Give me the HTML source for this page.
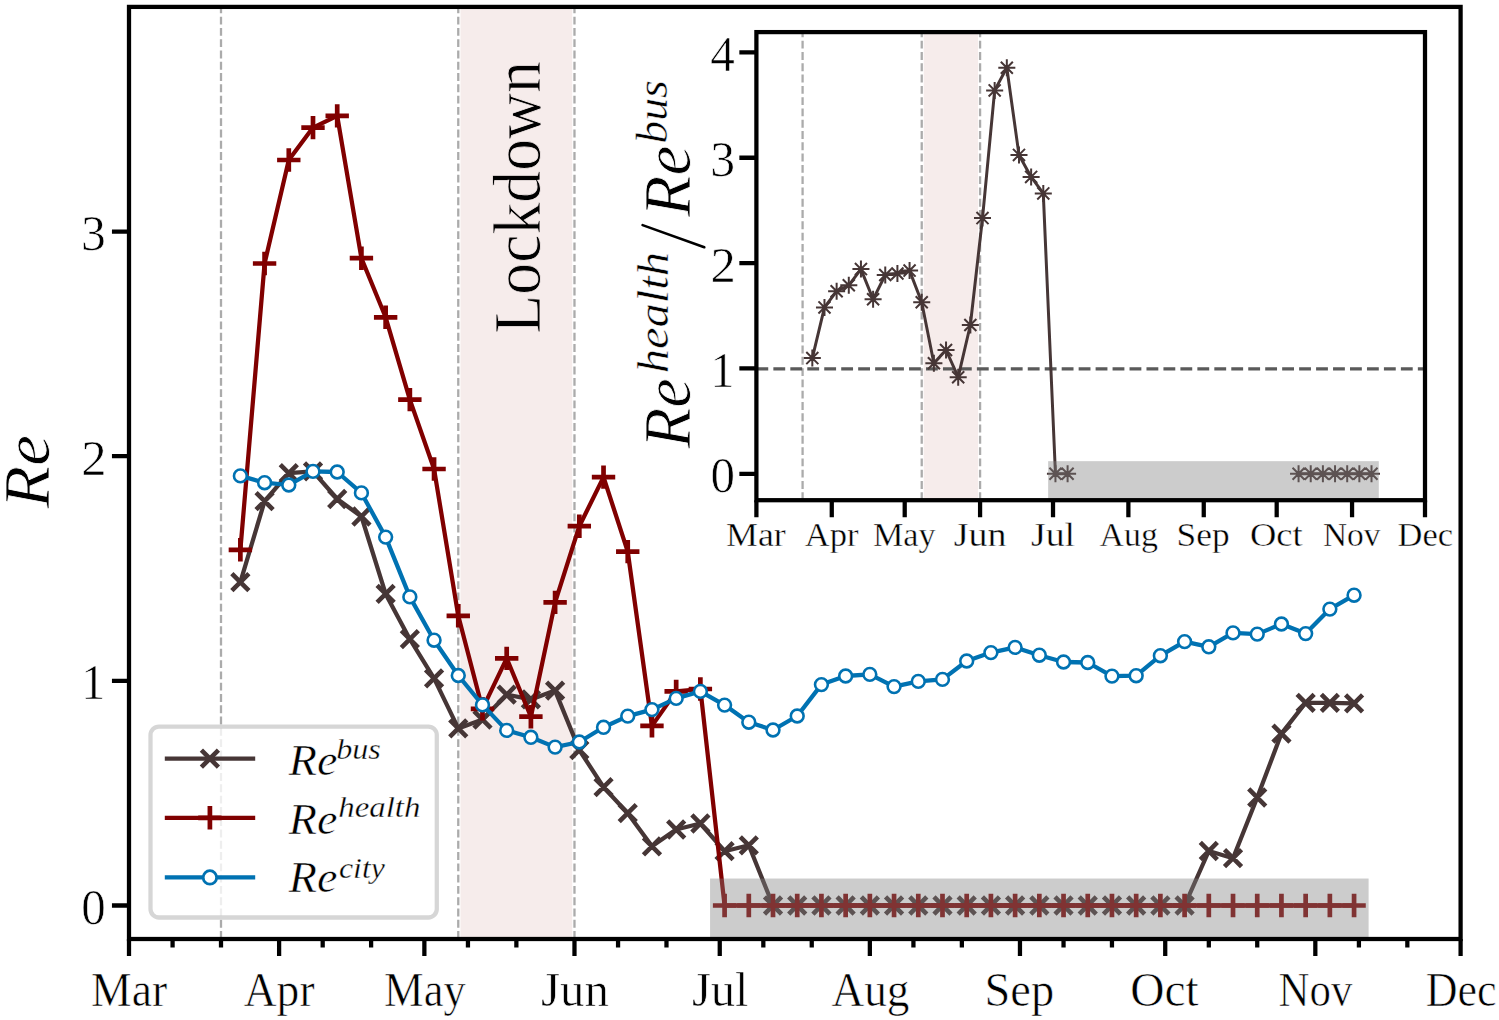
<!DOCTYPE html>
<html><head><meta charset="utf-8"><title>Re chart</title>
<style>html,body{margin:0;padding:0;background:#fff;overflow:hidden;width:1499px;height:1020px;}svg{display:block;}text{font-family:"Liberation Serif",serif;}</style>
</head><body>
<svg width="1499" height="1020" viewBox="0 0 1499 1020">
<rect x="0" y="0" width="1499" height="1020" fill="#ffffff"/>
<defs><clipPath id="cm"><rect x="129" y="6.9" width="1331.6" height="932.1"/></clipPath><clipPath id="ci"><rect x="756.4" y="32.1" width="668.6" height="468.1"/></clipPath></defs>
<g clip-path="url(#cm)">
<rect x="460.47" y="6.9" width="111.81" height="932.1" fill="#f6eceb"/>
<line x1="221" y1="939" x2="221" y2="6.9" stroke="#ababab" stroke-width="2.3" stroke-dasharray="7.88 3.41"/>
<line x1="458.27" y1="939" x2="458.27" y2="6.9" stroke="#ababab" stroke-width="2.3" stroke-dasharray="7.88 3.41"/>
<line x1="574.48" y1="939" x2="574.48" y2="6.9" stroke="#ababab" stroke-width="2.3" stroke-dasharray="7.88 3.41"/>
<path d="M240.37,582.1 L264.58,501.2 L288.79,473.1 L313,471.4 L337.21,499 L361.42,516.5 L385.64,593.9 L409.85,639.2 L434.06,678.4 L458.27,728.4 L482.48,719.6 L506.69,694.7 L530.9,699.4 L555.11,690.6 L579.32,750 L603.53,787.1 L627.74,813.2 L651.96,846.3 L676.17,829.5 L700.38,823.5 L724.59,851.2 L748.8,845.3 L773.01,905.5 L797.22,905.5 L821.43,905.5 L845.64,905.5 L869.85,905.5 L894.06,905.5 L918.28,905.5 L942.49,905.5 L966.7,905.5 L990.91,905.5 L1015.12,905.5 L1039.33,905.5 L1063.54,905.5 L1087.75,905.5 L1111.96,905.5 L1136.17,905.5 L1160.38,905.5 L1184.6,905.5 L1208.81,851 L1233.02,858.2 L1257.23,797.5 L1281.44,733.6 L1305.65,702.8 L1329.86,702.8 L1354.07,703.3" fill="none" stroke="#463636" stroke-width="4.26" stroke-linejoin="round" stroke-linecap="butt"/>
<path d="M231.85,573.58 L248.89,590.62 M231.85,590.62 L248.89,573.58 M256.06,492.68 L273.1,509.72 M256.06,509.72 L273.1,492.68 M280.27,464.58 L297.31,481.62 M280.27,481.62 L297.31,464.58 M304.48,462.88 L321.52,479.92 M304.48,479.92 L321.52,462.88 M328.69,490.48 L345.73,507.52 M328.69,507.52 L345.73,490.48 M352.9,507.98 L369.94,525.02 M352.9,525.02 L369.94,507.98 M377.12,585.38 L394.16,602.42 M377.12,602.42 L394.16,585.38 M401.33,630.68 L418.37,647.72 M401.33,647.72 L418.37,630.68 M425.54,669.88 L442.58,686.92 M425.54,686.92 L442.58,669.88 M449.75,719.88 L466.79,736.92 M449.75,736.92 L466.79,719.88 M473.96,711.08 L491,728.12 M473.96,728.12 L491,711.08 M498.17,686.18 L515.21,703.22 M498.17,703.22 L515.21,686.18 M522.38,690.88 L539.42,707.92 M522.38,707.92 L539.42,690.88 M546.59,682.08 L563.63,699.12 M546.59,699.12 L563.63,682.08 M570.8,741.48 L587.84,758.52 M570.8,758.52 L587.84,741.48 M595.01,778.58 L612.05,795.62 M595.01,795.62 L612.05,778.58 M619.22,804.68 L636.26,821.72 M619.22,821.72 L636.26,804.68 M643.44,837.78 L660.48,854.82 M643.44,854.82 L660.48,837.78 M667.65,820.98 L684.69,838.02 M667.65,838.02 L684.69,820.98 M691.86,814.98 L708.9,832.02 M691.86,832.02 L708.9,814.98 M716.07,842.68 L733.11,859.72 M716.07,859.72 L733.11,842.68 M740.28,836.78 L757.32,853.82 M740.28,853.82 L757.32,836.78 M764.49,896.98 L781.53,914.02 M764.49,914.02 L781.53,896.98 M788.7,896.98 L805.74,914.02 M788.7,914.02 L805.74,896.98 M812.91,896.98 L829.95,914.02 M812.91,914.02 L829.95,896.98 M837.12,896.98 L854.16,914.02 M837.12,914.02 L854.16,896.98 M861.33,896.98 L878.37,914.02 M861.33,914.02 L878.37,896.98 M885.54,896.98 L902.58,914.02 M885.54,914.02 L902.58,896.98 M909.76,896.98 L926.8,914.02 M909.76,914.02 L926.8,896.98 M933.97,896.98 L951.01,914.02 M933.97,914.02 L951.01,896.98 M958.18,896.98 L975.22,914.02 M958.18,914.02 L975.22,896.98 M982.39,896.98 L999.43,914.02 M982.39,914.02 L999.43,896.98 M1006.6,896.98 L1023.64,914.02 M1006.6,914.02 L1023.64,896.98 M1030.81,896.98 L1047.85,914.02 M1030.81,914.02 L1047.85,896.98 M1055.02,896.98 L1072.06,914.02 M1055.02,914.02 L1072.06,896.98 M1079.23,896.98 L1096.27,914.02 M1079.23,914.02 L1096.27,896.98 M1103.44,896.98 L1120.48,914.02 M1103.44,914.02 L1120.48,896.98 M1127.65,896.98 L1144.69,914.02 M1127.65,914.02 L1144.69,896.98 M1151.86,896.98 L1168.9,914.02 M1151.86,914.02 L1168.9,896.98 M1176.08,896.98 L1193.12,914.02 M1176.08,914.02 L1193.12,896.98 M1200.29,842.48 L1217.33,859.52 M1200.29,859.52 L1217.33,842.48 M1224.5,849.68 L1241.54,866.72 M1224.5,866.72 L1241.54,849.68 M1248.71,788.98 L1265.75,806.02 M1248.71,806.02 L1265.75,788.98 M1272.92,725.08 L1289.96,742.12 M1272.92,742.12 L1289.96,725.08 M1297.13,694.28 L1314.17,711.32 M1297.13,711.32 L1314.17,694.28 M1321.34,694.28 L1338.38,711.32 M1321.34,711.32 L1338.38,694.28 M1345.55,694.78 L1362.59,711.82 M1345.55,711.82 L1362.59,694.78" fill="none" stroke="#463636" stroke-width="4.6" stroke-linecap="butt"/>
<path d="M240.37,549.8 L264.58,263.5 L288.79,160 L313,127.6 L337.21,115.9 L361.42,258.2 L385.64,317.3 L409.85,399.6 L434.06,469 L458.27,615.8 L482.48,708.8 L506.69,658.4 L530.9,716.7 L555.11,602.4 L579.32,526.2 L603.53,477.1 L627.74,551.6 L651.96,725.9 L676.17,691.4 L700.38,689 L724.59,905.5 L748.8,905.5 L773.01,905.5 L797.22,905.5 L821.43,905.5 L845.64,905.5 L869.85,905.5 L894.06,905.5 L918.28,905.5 L942.49,905.5 L966.7,905.5 L990.91,905.5 L1015.12,905.5 L1039.33,905.5 L1063.54,905.5 L1087.75,905.5 L1111.96,905.5 L1136.17,905.5 L1160.38,905.5 L1184.6,905.5 L1208.81,905.5 L1233.02,905.5 L1257.23,905.5 L1281.44,905.5 L1305.65,905.5 L1329.86,905.5 L1354.07,905.5" fill="none" stroke="#800000" stroke-width="4.26" stroke-linejoin="round" stroke-linecap="butt"/>
<path d="M228.67,549.8 L252.07,549.8 M240.37,538.1 L240.37,561.5 M252.88,263.5 L276.28,263.5 M264.58,251.8 L264.58,275.2 M277.09,160 L300.49,160 M288.79,148.3 L288.79,171.7 M301.3,127.6 L324.7,127.6 M313,115.9 L313,139.3 M325.51,115.9 L348.91,115.9 M337.21,104.2 L337.21,127.6 M349.72,258.2 L373.12,258.2 M361.42,246.5 L361.42,269.9 M373.94,317.3 L397.34,317.3 M385.64,305.6 L385.64,329 M398.15,399.6 L421.55,399.6 M409.85,387.9 L409.85,411.3 M422.36,469 L445.76,469 M434.06,457.3 L434.06,480.7 M446.57,615.8 L469.97,615.8 M458.27,604.1 L458.27,627.5 M470.78,708.8 L494.18,708.8 M482.48,697.1 L482.48,720.5 M494.99,658.4 L518.39,658.4 M506.69,646.7 L506.69,670.1 M519.2,716.7 L542.6,716.7 M530.9,705 L530.9,728.4 M543.41,602.4 L566.81,602.4 M555.11,590.7 L555.11,614.1 M567.62,526.2 L591.02,526.2 M579.32,514.5 L579.32,537.9 M591.83,477.1 L615.23,477.1 M603.53,465.4 L603.53,488.8 M616.04,551.6 L639.44,551.6 M627.74,539.9 L627.74,563.3 M640.26,725.9 L663.66,725.9 M651.96,714.2 L651.96,737.6 M664.47,691.4 L687.87,691.4 M676.17,679.7 L676.17,703.1 M688.68,689 L712.08,689 M700.38,677.3 L700.38,700.7 M712.89,905.5 L736.29,905.5 M724.59,893.8 L724.59,917.2 M737.1,905.5 L760.5,905.5 M748.8,893.8 L748.8,917.2 M761.31,905.5 L784.71,905.5 M773.01,893.8 L773.01,917.2 M785.52,905.5 L808.92,905.5 M797.22,893.8 L797.22,917.2 M809.73,905.5 L833.13,905.5 M821.43,893.8 L821.43,917.2 M833.94,905.5 L857.34,905.5 M845.64,893.8 L845.64,917.2 M858.15,905.5 L881.55,905.5 M869.85,893.8 L869.85,917.2 M882.36,905.5 L905.76,905.5 M894.06,893.8 L894.06,917.2 M906.58,905.5 L929.98,905.5 M918.28,893.8 L918.28,917.2 M930.79,905.5 L954.19,905.5 M942.49,893.8 L942.49,917.2 M955,905.5 L978.4,905.5 M966.7,893.8 L966.7,917.2 M979.21,905.5 L1002.61,905.5 M990.91,893.8 L990.91,917.2 M1003.42,905.5 L1026.82,905.5 M1015.12,893.8 L1015.12,917.2 M1027.63,905.5 L1051.03,905.5 M1039.33,893.8 L1039.33,917.2 M1051.84,905.5 L1075.24,905.5 M1063.54,893.8 L1063.54,917.2 M1076.05,905.5 L1099.45,905.5 M1087.75,893.8 L1087.75,917.2 M1100.26,905.5 L1123.66,905.5 M1111.96,893.8 L1111.96,917.2 M1124.47,905.5 L1147.87,905.5 M1136.17,893.8 L1136.17,917.2 M1148.68,905.5 L1172.08,905.5 M1160.38,893.8 L1160.38,917.2 M1172.9,905.5 L1196.3,905.5 M1184.6,893.8 L1184.6,917.2 M1197.11,905.5 L1220.51,905.5 M1208.81,893.8 L1208.81,917.2 M1221.32,905.5 L1244.72,905.5 M1233.02,893.8 L1233.02,917.2 M1245.53,905.5 L1268.93,905.5 M1257.23,893.8 L1257.23,917.2 M1269.74,905.5 L1293.14,905.5 M1281.44,893.8 L1281.44,917.2 M1293.95,905.5 L1317.35,905.5 M1305.65,893.8 L1305.65,917.2 M1318.16,905.5 L1341.56,905.5 M1329.86,893.8 L1329.86,917.2 M1342.37,905.5 L1365.77,905.5 M1354.07,893.8 L1354.07,917.2" fill="none" stroke="#800000" stroke-width="4.7" stroke-linecap="butt"/>
<path d="M240.37,475.9 L264.58,482.7 L288.79,485 L313,471.4 L337.21,472 L361.42,492.9 L385.64,537.1 L409.85,596.9 L434.06,640.2 L458.27,675.5 L482.48,704.9 L506.69,730.4 L530.9,737.3 L555.11,747.1 L579.32,742 L603.53,727.3 L627.74,716.1 L651.96,709.6 L676.17,698.4 L700.38,691.4 L724.59,705.1 L748.8,722.2 L773.01,730 L797.22,716 L821.43,684.6 L845.64,676 L869.85,674.4 L894.06,686.6 L918.28,681.4 L942.49,679.4 L966.7,661 L990.91,652.6 L1015.12,647.4 L1039.33,655.2 L1063.54,662 L1087.75,662.5 L1111.96,676.1 L1136.17,675.7 L1160.38,655.7 L1184.6,641.6 L1208.81,646.8 L1233.02,632.9 L1257.23,634.1 L1281.44,624 L1305.65,633.6 L1329.86,609.1 L1354.07,595.2" fill="none" stroke="#0072b2" stroke-width="4.26" stroke-linejoin="round" stroke-linecap="butt"/>
<circle cx="240.37" cy="475.9" r="6.4" fill="#ffffff" stroke="#0072b2" stroke-width="2.6"/>
<circle cx="264.58" cy="482.7" r="6.4" fill="#ffffff" stroke="#0072b2" stroke-width="2.6"/>
<circle cx="288.79" cy="485" r="6.4" fill="#ffffff" stroke="#0072b2" stroke-width="2.6"/>
<circle cx="313" cy="471.4" r="6.4" fill="#ffffff" stroke="#0072b2" stroke-width="2.6"/>
<circle cx="337.21" cy="472" r="6.4" fill="#ffffff" stroke="#0072b2" stroke-width="2.6"/>
<circle cx="361.42" cy="492.9" r="6.4" fill="#ffffff" stroke="#0072b2" stroke-width="2.6"/>
<circle cx="385.64" cy="537.1" r="6.4" fill="#ffffff" stroke="#0072b2" stroke-width="2.6"/>
<circle cx="409.85" cy="596.9" r="6.4" fill="#ffffff" stroke="#0072b2" stroke-width="2.6"/>
<circle cx="434.06" cy="640.2" r="6.4" fill="#ffffff" stroke="#0072b2" stroke-width="2.6"/>
<circle cx="458.27" cy="675.5" r="6.4" fill="#ffffff" stroke="#0072b2" stroke-width="2.6"/>
<circle cx="482.48" cy="704.9" r="6.4" fill="#ffffff" stroke="#0072b2" stroke-width="2.6"/>
<circle cx="506.69" cy="730.4" r="6.4" fill="#ffffff" stroke="#0072b2" stroke-width="2.6"/>
<circle cx="530.9" cy="737.3" r="6.4" fill="#ffffff" stroke="#0072b2" stroke-width="2.6"/>
<circle cx="555.11" cy="747.1" r="6.4" fill="#ffffff" stroke="#0072b2" stroke-width="2.6"/>
<circle cx="579.32" cy="742" r="6.4" fill="#ffffff" stroke="#0072b2" stroke-width="2.6"/>
<circle cx="603.53" cy="727.3" r="6.4" fill="#ffffff" stroke="#0072b2" stroke-width="2.6"/>
<circle cx="627.74" cy="716.1" r="6.4" fill="#ffffff" stroke="#0072b2" stroke-width="2.6"/>
<circle cx="651.96" cy="709.6" r="6.4" fill="#ffffff" stroke="#0072b2" stroke-width="2.6"/>
<circle cx="676.17" cy="698.4" r="6.4" fill="#ffffff" stroke="#0072b2" stroke-width="2.6"/>
<circle cx="700.38" cy="691.4" r="6.4" fill="#ffffff" stroke="#0072b2" stroke-width="2.6"/>
<circle cx="724.59" cy="705.1" r="6.4" fill="#ffffff" stroke="#0072b2" stroke-width="2.6"/>
<circle cx="748.8" cy="722.2" r="6.4" fill="#ffffff" stroke="#0072b2" stroke-width="2.6"/>
<circle cx="773.01" cy="730" r="6.4" fill="#ffffff" stroke="#0072b2" stroke-width="2.6"/>
<circle cx="797.22" cy="716" r="6.4" fill="#ffffff" stroke="#0072b2" stroke-width="2.6"/>
<circle cx="821.43" cy="684.6" r="6.4" fill="#ffffff" stroke="#0072b2" stroke-width="2.6"/>
<circle cx="845.64" cy="676" r="6.4" fill="#ffffff" stroke="#0072b2" stroke-width="2.6"/>
<circle cx="869.85" cy="674.4" r="6.4" fill="#ffffff" stroke="#0072b2" stroke-width="2.6"/>
<circle cx="894.06" cy="686.6" r="6.4" fill="#ffffff" stroke="#0072b2" stroke-width="2.6"/>
<circle cx="918.28" cy="681.4" r="6.4" fill="#ffffff" stroke="#0072b2" stroke-width="2.6"/>
<circle cx="942.49" cy="679.4" r="6.4" fill="#ffffff" stroke="#0072b2" stroke-width="2.6"/>
<circle cx="966.7" cy="661" r="6.4" fill="#ffffff" stroke="#0072b2" stroke-width="2.6"/>
<circle cx="990.91" cy="652.6" r="6.4" fill="#ffffff" stroke="#0072b2" stroke-width="2.6"/>
<circle cx="1015.12" cy="647.4" r="6.4" fill="#ffffff" stroke="#0072b2" stroke-width="2.6"/>
<circle cx="1039.33" cy="655.2" r="6.4" fill="#ffffff" stroke="#0072b2" stroke-width="2.6"/>
<circle cx="1063.54" cy="662" r="6.4" fill="#ffffff" stroke="#0072b2" stroke-width="2.6"/>
<circle cx="1087.75" cy="662.5" r="6.4" fill="#ffffff" stroke="#0072b2" stroke-width="2.6"/>
<circle cx="1111.96" cy="676.1" r="6.4" fill="#ffffff" stroke="#0072b2" stroke-width="2.6"/>
<circle cx="1136.17" cy="675.7" r="6.4" fill="#ffffff" stroke="#0072b2" stroke-width="2.6"/>
<circle cx="1160.38" cy="655.7" r="6.4" fill="#ffffff" stroke="#0072b2" stroke-width="2.6"/>
<circle cx="1184.6" cy="641.6" r="6.4" fill="#ffffff" stroke="#0072b2" stroke-width="2.6"/>
<circle cx="1208.81" cy="646.8" r="6.4" fill="#ffffff" stroke="#0072b2" stroke-width="2.6"/>
<circle cx="1233.02" cy="632.9" r="6.4" fill="#ffffff" stroke="#0072b2" stroke-width="2.6"/>
<circle cx="1257.23" cy="634.1" r="6.4" fill="#ffffff" stroke="#0072b2" stroke-width="2.6"/>
<circle cx="1281.44" cy="624" r="6.4" fill="#ffffff" stroke="#0072b2" stroke-width="2.6"/>
<circle cx="1305.65" cy="633.6" r="6.4" fill="#ffffff" stroke="#0072b2" stroke-width="2.6"/>
<circle cx="1329.86" cy="609.1" r="6.4" fill="#ffffff" stroke="#0072b2" stroke-width="2.6"/>
<circle cx="1354.07" cy="595.2" r="6.4" fill="#ffffff" stroke="#0072b2" stroke-width="2.6"/>
<rect x="710.06" y="878.54" width="658.54" height="65.46" fill="#808080" fill-opacity="0.4"/>
</g>
<text x="0" y="0" transform="translate(539.60,333.68) rotate(-90) scale(0.9376,1)" font-family="Liberation Serif" font-style="normal" font-size="68" stroke="#f6eceb" stroke-width="0.82">Lockdown</text>
<path d="M129,939 L129,956.05 M279.11,939 L279.11,956.05 M424.37,939 L424.37,956.05 M574.48,939 L574.48,956.05 M719.75,939 L719.75,956.05 M869.85,939 L869.85,956.05 M1019.96,939 L1019.96,956.05 M1165.23,939 L1165.23,956.05 M1315.33,939 L1315.33,956.05 M1460.6,939 L1460.6,956.05 M172.58,939 L172.58,947.52 M221,939 L221,947.52 M322.69,939 L322.69,947.52 M371.11,939 L371.11,947.52 M467.95,939 L467.95,947.52 M516.37,939 L516.37,947.52 M618.06,939 L618.06,947.52 M666.48,939 L666.48,947.52 M763.33,939 L763.33,947.52 M811.75,939 L811.75,947.52 M913.43,939 L913.43,947.52 M961.86,939 L961.86,947.52 M1063.54,939 L1063.54,947.52 M1111.96,939 L1111.96,947.52 M1208.81,939 L1208.81,947.52 M1257.23,939 L1257.23,947.52 M1358.91,939 L1358.91,947.52 M1407.34,939 L1407.34,947.52 M129,905.5 L111.95,905.5 M129,680.85 L111.95,680.85 M129,456.2 L111.95,456.2 M129,231.55 L111.95,231.55" stroke="#000" stroke-width="4.26" fill="none"/>
<rect x="129" y="6.9" width="1331.6" height="932.1" fill="none" stroke="#000" stroke-width="4.26" stroke-linejoin="miter"/>
<text x="0" y="0" transform="translate(91.07,1005.60) scale(0.9513,1)" font-family="Liberation Serif" font-style="normal" font-size="48" stroke="#ffffff" stroke-width="0.61">Mar</text>
<text x="0" y="0" transform="translate(243.73,1005.60) scale(0.9492,1)" font-family="Liberation Serif" font-style="normal" font-size="48" stroke="#ffffff" stroke-width="0.61">Apr</text>
<text x="0" y="0" transform="translate(384.11,1005.60) scale(0.9275,1)" font-family="Liberation Serif" font-style="normal" font-size="48" stroke="#ffffff" stroke-width="0.62">May</text>
<text x="0" y="0" transform="translate(541.08,1005.60) scale(1.0185,1)" font-family="Liberation Serif" font-style="normal" font-size="48" stroke="#ffffff" stroke-width="0.57">Jun</text>
<text x="0" y="0" transform="translate(691.89,1005.60) scale(1.0130,1)" font-family="Liberation Serif" font-style="normal" font-size="48" stroke="#ffffff" stroke-width="0.57">Jul</text>
<text x="0" y="0" transform="translate(831.53,1005.60) scale(0.9428,1)" font-family="Liberation Serif" font-style="normal" font-size="48" stroke="#ffffff" stroke-width="0.61">Aug</text>
<text x="0" y="0" transform="translate(984.45,1005.60) scale(0.9678,1)" font-family="Liberation Serif" font-style="normal" font-size="48" stroke="#ffffff" stroke-width="0.60">Sep</text>
<text x="0" y="0" transform="translate(1130.22,1005.60) scale(0.9881,1)" font-family="Liberation Serif" font-style="normal" font-size="48" stroke="#ffffff" stroke-width="0.58">Oct</text>
<text x="0" y="0" transform="translate(1278.56,1005.60) scale(0.8935,1)" font-family="Liberation Serif" font-style="normal" font-size="48" stroke="#ffffff" stroke-width="0.64">Nov</text>
<text x="0" y="0" transform="translate(1425.72,1005.60) scale(0.9172,1)" font-family="Liberation Serif" font-style="normal" font-size="48" stroke="#ffffff" stroke-width="0.63">Dec</text>
<text x="0" y="0" transform="translate(81.28,924.00) scale(0.9605,1)" font-family="Liberation Serif" font-style="normal" font-size="51" stroke="#ffffff" stroke-width="0.64">0</text>
<text x="0" y="0" transform="translate(81.19,699.35) scale(0.9361,1)" font-family="Liberation Serif" font-style="normal" font-size="51" stroke="#ffffff" stroke-width="0.65">1</text>
<text x="0" y="0" transform="translate(81.26,474.70) scale(0.9951,1)" font-family="Liberation Serif" font-style="normal" font-size="51" stroke="#ffffff" stroke-width="0.61">2</text>
<text x="0" y="0" transform="translate(80.97,250.05) scale(0.9738,1)" font-family="Liberation Serif" font-style="normal" font-size="51" stroke="#ffffff" stroke-width="0.63">3</text>
<text x="0" y="0" transform="translate(48.50,508.23) rotate(-90) scale(1.0677,1)" font-family="Liberation Serif" font-style="italic" font-size="65" stroke="#ffffff" stroke-width="0.73">Re</text>
<rect x="150.5" y="726.6" width="286.3" height="190.9" rx="8.5" ry="8.5" fill="#ffffff" fill-opacity="0.8" stroke="#cccccc" stroke-opacity="0.8" stroke-width="4.26"/>
<line x1="164.8" y1="758.6" x2="255.2" y2="758.6" stroke="#463636" stroke-width="4.26"/>
<path d="M201.38,750.08 L218.42,767.12 M201.38,767.12 L218.42,750.08" stroke="#463636" stroke-width="4.6"/>
<line x1="164.8" y1="817.8" x2="255.2" y2="817.8" stroke="#800000" stroke-width="4.26"/>
<path d="M198.2,817.8 L221.6,817.8 M209.9,806.1 L209.9,829.5" stroke="#800000" stroke-width="4.7"/>
<line x1="164.8" y1="877.4" x2="255.2" y2="877.4" stroke="#0072b2" stroke-width="4.26"/>
<circle cx="209.9" cy="877.4" r="6.7" fill="#ffffff" stroke="#0072b2" stroke-width="2.8"/>
<text x="0" y="0" transform="translate(288.86,774.50) scale(1.0378,1)" font-family="Liberation Serif" font-style="italic" font-size="44.5" stroke="#ffffff" stroke-width="0.51">Re</text>
<text x="0" y="0" transform="translate(336.16,758.60) scale(1.0734,1)" font-family="Liberation Serif" font-style="italic" font-size="30" stroke="#ffffff" stroke-width="0.34">bus</text>
<text x="0" y="0" transform="translate(288.86,833.70) scale(1.0378,1)" font-family="Liberation Serif" font-style="italic" font-size="44.5" stroke="#ffffff" stroke-width="0.51">Re</text>
<text x="0" y="0" transform="translate(338.30,817.40) scale(1.0955,1)" font-family="Liberation Serif" font-style="italic" font-size="30" stroke="#ffffff" stroke-width="0.33">health</text>
<text x="0" y="0" transform="translate(288.86,892.10) scale(1.0378,1)" font-family="Liberation Serif" font-style="italic" font-size="44.5" stroke="#ffffff" stroke-width="0.51">Re</text>
<text x="0" y="0" transform="translate(338.94,878.00) scale(1.0604,1)" font-family="Liberation Serif" font-style="italic" font-size="30" stroke="#ffffff" stroke-width="0.34">city</text>
<rect x="756.4" y="32.1" width="668.6" height="468.1" fill="#ffffff"/>
<g clip-path="url(#ci)">
<rect x="923.73" y="32.1" width="54.35" height="468.1" fill="#f6eceb"/>
<line x1="802.59" y1="500.2" x2="802.59" y2="32.1" stroke="#ababab" stroke-width="2.3" stroke-dasharray="7.88 3.41"/>
<line x1="921.73" y1="500.2" x2="921.73" y2="32.1" stroke="#ababab" stroke-width="2.3" stroke-dasharray="7.88 3.41"/>
<line x1="980.08" y1="500.2" x2="980.08" y2="32.1" stroke="#ababab" stroke-width="2.3" stroke-dasharray="7.88 3.41"/>
<line x1="756.4" y1="368.9" x2="1425" y2="368.9" stroke="#5a5a5a" stroke-width="3.2" stroke-dasharray="11.84 5.12"/>
<path d="M812.32,358.1 L824.48,307.4 L836.63,291.2 L848.79,285.3 L860.94,269.1 L873.1,299.3 L885.26,275 L897.41,273.5 L909.57,270.6 L921.73,302.2 L933.88,363.2 L946.04,350 L958.2,377.2 L970.35,325 L982.51,218.1 L994.66,90.4 L1006.82,67.8 L1018.98,154.9 L1031.13,176.9 L1043.29,193.4 L1055.45,473.8 L1067.6,473.8" fill="none" stroke="#463636" stroke-width="3" stroke-linejoin="round" stroke-linecap="butt"/>
<path d="M1298.57,473.8 L1310.73,473.8 L1322.89,473.8 L1335.04,473.8 L1347.2,473.8 L1359.36,473.8 L1371.51,473.8" fill="none" stroke="#463636" stroke-width="3" stroke-linejoin="round" stroke-linecap="butt"/>
<path d="M812.32,349.58 L812.32,366.62 M803.8,358.1 L820.84,358.1 M806.29,352.08 L818.34,364.12 M806.29,364.12 L818.34,352.08 M824.48,298.88 L824.48,315.92 M815.96,307.4 L833,307.4 M818.45,301.38 L830.5,313.42 M818.45,313.42 L830.5,301.38 M836.63,282.68 L836.63,299.72 M828.11,291.2 L845.15,291.2 M830.61,285.18 L842.66,297.22 M830.61,297.22 L842.66,285.18 M848.79,276.78 L848.79,293.82 M840.27,285.3 L857.31,285.3 M842.76,279.28 L854.81,291.32 M842.76,291.32 L854.81,279.28 M860.94,260.58 L860.94,277.62 M852.42,269.1 L869.46,269.1 M854.92,263.08 L866.97,275.12 M854.92,275.12 L866.97,263.08 M873.1,290.78 L873.1,307.82 M864.58,299.3 L881.62,299.3 M867.08,293.28 L879.13,305.32 M867.08,305.32 L879.13,293.28 M885.26,266.48 L885.26,283.52 M876.74,275 L893.78,275 M879.23,268.98 L891.28,281.02 M879.23,281.02 L891.28,268.98 M897.41,264.98 L897.41,282.02 M888.89,273.5 L905.93,273.5 M891.39,267.48 L903.44,279.52 M891.39,279.52 L903.44,267.48 M909.57,262.08 L909.57,279.12 M901.05,270.6 L918.09,270.6 M903.55,264.58 L915.59,276.62 M903.55,276.62 L915.59,264.58 M921.73,293.68 L921.73,310.72 M913.21,302.2 L930.25,302.2 M915.7,296.18 L927.75,308.22 M915.7,308.22 L927.75,296.18 M933.88,354.68 L933.88,371.72 M925.36,363.2 L942.4,363.2 M927.86,357.18 L939.91,369.22 M927.86,369.22 L939.91,357.18 M946.04,341.48 L946.04,358.52 M937.52,350 L954.56,350 M940.01,343.98 L952.06,356.02 M940.01,356.02 L952.06,343.98 M958.2,368.68 L958.2,385.72 M949.68,377.2 L966.72,377.2 M952.17,371.18 L964.22,383.22 M952.17,383.22 L964.22,371.18 M970.35,316.48 L970.35,333.52 M961.83,325 L978.87,325 M964.33,318.98 L976.38,331.02 M964.33,331.02 L976.38,318.98 M982.51,209.58 L982.51,226.62 M973.99,218.1 L991.03,218.1 M976.48,212.08 L988.53,224.12 M976.48,224.12 L988.53,212.08 M994.66,81.88 L994.66,98.92 M986.14,90.4 L1003.18,90.4 M988.64,84.38 L1000.69,96.42 M988.64,96.42 L1000.69,84.38 M1006.82,59.28 L1006.82,76.32 M998.3,67.8 L1015.34,67.8 M1000.8,61.78 L1012.85,73.82 M1000.8,73.82 L1012.85,61.78 M1018.98,146.38 L1018.98,163.42 M1010.46,154.9 L1027.5,154.9 M1012.95,148.88 L1025,160.92 M1012.95,160.92 L1025,148.88 M1031.13,168.38 L1031.13,185.42 M1022.61,176.9 L1039.65,176.9 M1025.11,170.88 L1037.16,182.92 M1025.11,182.92 L1037.16,170.88 M1043.29,184.88 L1043.29,201.92 M1034.77,193.4 L1051.81,193.4 M1037.27,187.38 L1049.31,199.42 M1037.27,199.42 L1049.31,187.38 M1055.45,465.28 L1055.45,482.32 M1046.93,473.8 L1063.97,473.8 M1049.42,467.78 L1061.47,479.82 M1049.42,479.82 L1061.47,467.78 M1067.6,465.28 L1067.6,482.32 M1059.08,473.8 L1076.12,473.8 M1061.58,467.78 L1073.63,479.82 M1061.58,479.82 L1073.63,467.78 M1298.57,465.28 L1298.57,482.32 M1290.05,473.8 L1307.09,473.8 M1292.55,467.78 L1304.6,479.82 M1292.55,479.82 L1304.6,467.78 M1310.73,465.28 L1310.73,482.32 M1302.21,473.8 L1319.25,473.8 M1304.71,467.78 L1316.75,479.82 M1304.71,479.82 L1316.75,467.78 M1322.89,465.28 L1322.89,482.32 M1314.37,473.8 L1331.41,473.8 M1316.86,467.78 L1328.91,479.82 M1316.86,479.82 L1328.91,467.78 M1335.04,465.28 L1335.04,482.32 M1326.52,473.8 L1343.56,473.8 M1329.02,467.78 L1341.07,479.82 M1329.02,479.82 L1341.07,467.78 M1347.2,465.28 L1347.2,482.32 M1338.68,473.8 L1355.72,473.8 M1341.17,467.78 L1353.22,479.82 M1341.17,479.82 L1353.22,467.78 M1359.36,465.28 L1359.36,482.32 M1350.84,473.8 L1367.88,473.8 M1353.33,467.78 L1365.38,479.82 M1353.33,479.82 L1365.38,467.78 M1371.51,465.28 L1371.51,482.32 M1362.99,473.8 L1380.03,473.8 M1365.49,467.78 L1377.54,479.82 M1365.49,479.82 L1377.54,467.78" fill="none" stroke="#463636" stroke-width="2.0" stroke-linecap="butt"/>
<rect x="1048.15" y="461.16" width="330.65" height="44.04" fill="#808080" fill-opacity="0.4"/>
</g>
<path d="M756.4,500.2 L756.4,517.25 M831.77,500.2 L831.77,517.25 M904.71,500.2 L904.71,517.25 M980.08,500.2 L980.08,517.25 M1053.02,500.2 L1053.02,517.25 M1128.38,500.2 L1128.38,517.25 M1203.75,500.2 L1203.75,517.25 M1276.69,500.2 L1276.69,517.25 M1352.06,500.2 L1352.06,517.25 M1425,500.2 L1425,517.25 M756.4,473.8 L739.35,473.8 M756.4,368.45 L739.35,368.45 M756.4,263.1 L739.35,263.1 M756.4,157.75 L739.35,157.75 M756.4,52.4 L739.35,52.4" stroke="#000" stroke-width="4.26" fill="none"/>
<rect x="756.4" y="32.1" width="668.6" height="468.1" fill="none" stroke="#000" stroke-width="4.26"/>
<text x="0" y="0" transform="translate(726.04,545.50) scale(1.0552,1)" font-family="Liberation Serif" font-style="normal" font-size="34" stroke="#ffffff" stroke-width="0.39">Mar</text>
<text x="0" y="0" transform="translate(804.65,545.50) scale(1.0182,1)" font-family="Liberation Serif" font-style="normal" font-size="34" stroke="#ffffff" stroke-width="0.40">Apr</text>
<text x="0" y="0" transform="translate(872.89,545.50) scale(1.0057,1)" font-family="Liberation Serif" font-style="normal" font-size="34" stroke="#ffffff" stroke-width="0.41">May</text>
<text x="0" y="0" transform="translate(953.66,545.50) scale(1.1174,1)" font-family="Liberation Serif" font-style="normal" font-size="34" stroke="#ffffff" stroke-width="0.37">Jun</text>
<text x="0" y="0" transform="translate(1030.96,545.50) scale(1.1137,1)" font-family="Liberation Serif" font-style="normal" font-size="34" stroke="#ffffff" stroke-width="0.37">Jul</text>
<text x="0" y="0" transform="translate(1099.55,545.50) scale(0.9957,1)" font-family="Liberation Serif" font-style="normal" font-size="34" stroke="#ffffff" stroke-width="0.41">Aug</text>
<text x="0" y="0" transform="translate(1176.56,545.50) scale(1.0400,1)" font-family="Liberation Serif" font-style="normal" font-size="34" stroke="#ffffff" stroke-width="0.39">Sep</text>
<text x="0" y="0" transform="translate(1249.99,545.50) scale(1.0730,1)" font-family="Liberation Serif" font-style="normal" font-size="34" stroke="#ffffff" stroke-width="0.38">Oct</text>
<text x="0" y="0" transform="translate(1322.92,545.50) scale(0.9826,1)" font-family="Liberation Serif" font-style="normal" font-size="34" stroke="#ffffff" stroke-width="0.42">Nov</text>
<text x="0" y="0" transform="translate(1397.59,545.50) scale(1.0142,1)" font-family="Liberation Serif" font-style="normal" font-size="34" stroke="#ffffff" stroke-width="0.40">Dec</text>
<text x="0" y="0" transform="translate(710.58,492.30) scale(0.9605,1)" font-family="Liberation Serif" font-style="normal" font-size="51" stroke="#ffffff" stroke-width="0.64">0</text>
<text x="0" y="0" transform="translate(710.49,386.95) scale(0.9361,1)" font-family="Liberation Serif" font-style="normal" font-size="51" stroke="#ffffff" stroke-width="0.65">1</text>
<text x="0" y="0" transform="translate(710.56,281.60) scale(0.9951,1)" font-family="Liberation Serif" font-style="normal" font-size="51" stroke="#ffffff" stroke-width="0.62">2</text>
<text x="0" y="0" transform="translate(710.27,176.25) scale(0.9738,1)" font-family="Liberation Serif" font-style="normal" font-size="51" stroke="#ffffff" stroke-width="0.63">3</text>
<text x="0" y="0" transform="translate(710.34,70.90) scale(0.9642,1)" font-family="Liberation Serif" font-style="normal" font-size="51" stroke="#ffffff" stroke-width="0.63">4</text>
<text x="0" y="0" transform="translate(689.60,448.25) rotate(-90) scale(0.9914,1)" font-family="Liberation Serif" font-style="italic" font-size="67" stroke="#ffffff" stroke-width="0.81">Re</text>
<text x="0" y="0" transform="translate(668.00,373.19) rotate(-90) scale(1.0777,1)" font-family="Liberation Serif" font-style="italic" font-size="45" stroke="#ffffff" stroke-width="0.50">health</text>
<line x1="642.6" y1="225.1" x2="704.3" y2="247.2" stroke="#000" stroke-width="2.6" stroke-linecap="round"/>
<text x="0" y="0" transform="translate(689.60,216.65) rotate(-90) scale(1.0043,1)" font-family="Liberation Serif" font-style="italic" font-size="67" stroke="#ffffff" stroke-width="0.80">Re</text>
<text x="0" y="0" transform="translate(666.80,143.68) rotate(-90) scale(1.0177,1)" font-family="Liberation Serif" font-style="italic" font-size="45" stroke="#ffffff" stroke-width="0.53">bus</text>
</svg>
</body></html>
